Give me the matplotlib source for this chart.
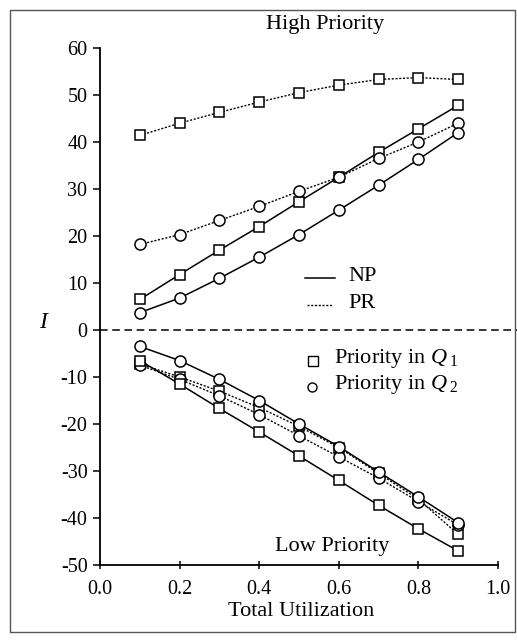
import matplotlib
matplotlib.use("Agg")
import matplotlib.pyplot as plt
from matplotlib.patches import Rectangle
from matplotlib.lines import Line2D

plt.rcParams['font.family'] = ['Liberation Serif', 'DejaVu Serif']
plt.rcParams['mathtext.fontset'] = 'custom'
plt.rcParams['mathtext.it'] = 'Liberation Serif:italic'
plt.rcParams['mathtext.rm'] = 'Liberation Serif'

util = [0.1, 0.2, 0.3, 0.4, 0.5, 0.6, 0.7, 0.8, 0.9]

# High priority
high_pr_q1 = [41.4, 44.0, 46.3, 48.5, 50.5, 52.1, 53.3, 53.7, 53.3]
high_np_q1 = [6.5, 11.8, 17.0, 22.0, 27.3, 32.5, 37.8, 42.8, 47.8]
high_pr_q2 = [18.2, 20.3, 23.3, 26.3, 29.5, 32.5, 36.5, 40.0, 44.0]
high_np_q2 = [3.7, 6.8, 11.0, 15.5, 20.3, 25.5, 30.8, 36.3, 42.0]

# Low priority
low_np_q2 = [-3.5, -6.5, -10.5, -15.0, -20.0, -24.8, -30.2, -35.5, -41.0]
low_np_q1 = [-6.5, -11.5, -16.7, -21.7, -26.8, -32.0, -37.3, -42.3, -47.0]
low_pr_q1 = [-7.2, -10.0, -13.0, -16.5, -20.5, -25.0, -30.5, -36.0, -43.5]
low_pr_q2 = [-7.5, -10.5, -14.0, -18.0, -22.5, -27.0, -31.5, -36.5, -41.5]

xticks = [0.0, 0.2, 0.4, 0.6, 0.8, 1.0]
yticks = [-50, -40, -30, -20, -10, 0, 10, 20, 30, 40, 50, 60]

W, H = 517, 641
fig = plt.figure(figsize=(W / 100, H / 100), dpi=100)
ax = fig.add_axes([100 / W, 1 - 565 / H, 398 / W, 517 / H])

def fx(px):
    return px / W
def fy(py):
    return 1 - py / H

# outer frame
fig.patches.append(Rectangle((10 / W, 9 / H), 505 / W, 622 / H, transform=fig.transFigure,
                             fill=False, edgecolor='#555555', linewidth=1.0))

sq = dict(marker='s', markersize=7.5, markerfacecolor='white', markeredgecolor='black', markeredgewidth=1.1)
ci = dict(marker='o', markersize=8, markerfacecolor='white', markeredgecolor='black', markeredgewidth=1.1)
solid = dict(color='black', linestyle='-', linewidth=1.1)
dotted = dict(color='black', linestyle=(0, (1.5, 1.2)), linewidth=1.0)

ax.plot(util, high_pr_q1, **dotted, **sq)
ax.plot(util, high_np_q1, **solid, **sq)
ax.plot(util, high_pr_q2, **dotted, **ci)
ax.plot(util, high_np_q2, **solid, **ci)

ax.plot(util, low_pr_q1, **dotted, **sq)
ax.plot(util, low_pr_q2, **dotted, **ci)
ax.plot(util, low_np_q1, **solid, **sq)
ax.plot(util, low_np_q2, **solid, **ci)

# zero dashed line extending past the axes
ax.plot([0.0, 1.05], [0, 0], color='black', linestyle=(0, (5, 3)), linewidth=1.1, clip_on=False)

ax.set_xlim(0.0, 1.0)
ax.set_ylim(-50, 60)
ax.set_xticks(xticks)
ax.set_xticklabels([f"{v:.1f}" for v in xticks])
ax.set_yticks(yticks)
ax.set_yticklabels([str(v) for v in yticks])
for s in ['top', 'right']:
    ax.spines[s].set_visible(False)
ax.spines['left'].set_linewidth(1.3)
ax.spines['bottom'].set_linewidth(1.3)
ax.tick_params(axis='y', direction='out', length=5, width=1.1, labelsize=14.5, pad=4)
ax.tick_params(axis='x', direction='inout', length=6, width=1.1, labelsize=14.5, pad=8)

fig.text(fx(301), fy(611), 'Total Utilization', ha='center', va='center', fontsize=16)
fig.text(fx(325), fy(25), 'High Priority', ha='center', va='center', fontsize=16)
fig.text(fx(332), fy(547), 'Low Priority', ha='center', va='center', fontsize=16)
fig.text(fx(43), fy(323), 'I', ha='center', va='center', fontsize=17, style='italic')

# legends drawn manually
fig.add_artist(Line2D([fx(305), fx(335)], [fy(278), fy(278)], color='black', linewidth=1.1))
fig.text(fx(348), fy(277), 'NP', ha='left', va='center', fontsize=16)
fig.add_artist(Line2D([fx(307), fx(333)], [fy(305), fy(305)], color='black', linewidth=1.0,
                      linestyle=(0, (1.5, 1.2))))
fig.text(fx(348), fy(304), 'PR', ha='left', va='center', fontsize=16)

fig.add_artist(Line2D([fx(313)], [fy(361)], marker='s', markersize=6.5, markerfacecolor='white',
                      markeredgecolor='black', markeredgewidth=1.0, linestyle='none'))
fig.text(fx(334), fy(358), r'Priority in $Q\,_1$', ha='left', va='center', fontsize=16)
fig.add_artist(Line2D([fx(312)], [fy(387)], marker='o', markersize=6.5, markerfacecolor='white',
                      markeredgecolor='black', markeredgewidth=1.0, linestyle='none'))
fig.text(fx(334), fy(384), r'Priority in $Q\,_2$', ha='left', va='center', fontsize=16)

fig.savefig('out.png', dpi=100)
